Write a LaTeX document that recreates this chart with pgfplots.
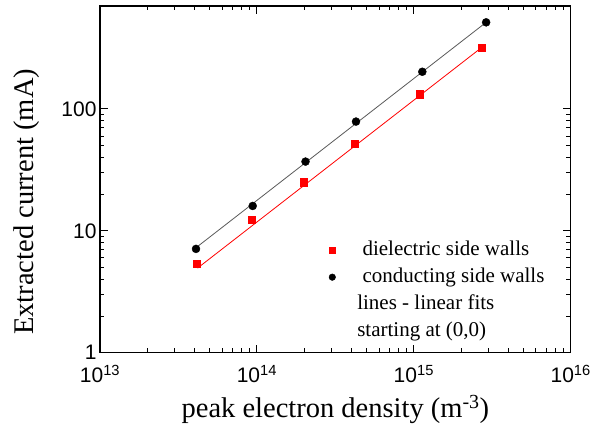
\documentclass[border=0pt]{standalone}
\usepackage{pgfplots}
\pgfplotsset{compat=1.18}
\usepackage{fontspec}
\setmainfont{Liberation Serif}
\newfontfamily\arial{Liberation Sans}

\begin{document}
\begin{tikzpicture}
\begin{axis}[
    name=ax,
    scale only axis,
    width=470.7pt, height=346.7pt,
    xmode=log, ymode=log,
    xmin=1e13, xmax=1e16,
    ymin=1, ymax=700,
    xtick={1e13,1e14,1e15,1e16},
    xticklabels={10\textsuperscript{13},10\textsuperscript{14},10\textsuperscript{15},10\textsuperscript{16}},
    ytick={1,10,100},
    yticklabels={1,10,100},
    tick label style={font=\arial\fontsize{21}{24}\selectfont},
    xticklabel style={anchor=base, yshift=-30.3pt},
    axis line style={line width=1.5pt},
    every tick/.style={black, line width=1pt},
    major tick length=8pt,
    minor tick length=4.5pt,
    xlabel={peak electron density (m\textsuperscript{-3})},
    ylabel={Extracted current (mA)},
    label style={font=\fontsize{28.5}{32}\selectfont},
    xlabel style={at={(axis description cs:0.5,0)}, anchor=base, yshift=-64.6pt},
    ylabel style={at={(axis description cs:0,0.435)}, anchor=south, yshift=57pt},
    legend style={draw=none, fill=none, font=\fontsize{21}{24}\selectfont,
        at={(axis description cs:0.486,0.328)}, anchor=north west,
        row sep=5pt, inner sep=0pt,
        nodes={inner sep=1pt, text height=15pt, text depth=5pt},
        /tikz/every odd column/.append style={column sep=20.7pt}},
    legend cell align=left,
    legend image code/.code={\draw[mark size=3.3pt] plot coordinates {(0pt,0pt)};},
]
% dielectric side walls
\addplot[only marks, mark=square*, mark size=3.6pt, red, mark options={draw=red, fill=red}] coordinates {
    (4.13e13,5.37) (9.26e13,12.3) (1.99e14,25.1) (4.18e14,51.6) (1.084e15,132) (2.71e15,318)
};
\addlegendentry{\ dielectric side walls}
% conducting side walls
\addplot[only marks, mark=*, mark size=4pt, black] coordinates {
    (4.09e13,7.11) (9.40e13,16.0) (2.04e14,37.0) (4.28e14,78.8) (1.133e15,202) (2.89e15,514)
};
\addlegendentry{\ conducting side walls}
\addlegendimage{empty legend}
\addlegendentry{lines - linear fits}
\addlegendimage{empty legend}
\addlegendentry{starting at (0,0)}
% linear fits through origin
\addplot[red, line width=0.8pt, forget plot] coordinates {(4.18e13,4.94) (2.71e15,320)};
\addplot[black!65, line width=0.8pt, forget plot] coordinates {(4.09e13,7.27) (2.89e15,514)};
\end{axis}
\pgfresetboundingbox
\path[use as bounding box] ([xshift=-100pt,yshift=-80.3pt]ax.south west) rectangle ([xshift=502pt,yshift=352.7pt]ax.south west);
\end{tikzpicture}
\end{document}
